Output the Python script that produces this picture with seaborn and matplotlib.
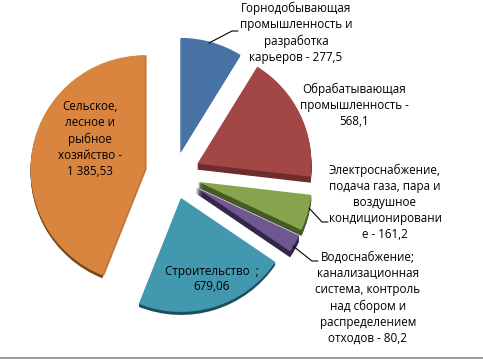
import matplotlib
matplotlib.use("Agg")
import matplotlib.pyplot as plt
import seaborn as sns

categories = [
    "Горнодобывающая\nпромышленность и\nразработка\nкарьеров - 277,5",
    "Обрабатывающая\nпромышленность -\n568,1",
    "Электроснабжение,\nподача газа, пара и\nвоздушное\nкондиционировани\nе - 161,2",
    "Водоснабжение;\nканализационная\nсистема, контроль\nнад сбором и\nраспределением\nотходов - 80,2",
    "Строительство  ;\n679,06",
    "Сельское,\nлесное и\nрыбное\nхозяйство -\n1 385,53",
]
values = [277.5, 568.1, 161.2, 80.2, 679.06, 1385.53]
colors = ["#4672A4", "#A24746", "#86A44E", "#6F5792", "#4298AE", "#D9853F"]
side_colors = ["#3E6797", "#6E2C2C", "#465A26", "#33264A", "#1C4F5E", "#7A4A1E"]

label_x = [296, 354, 385, 368, 212, 90]
label_y = [33, 105, 202, 298, 279, 139]

# leader lines for the labels sitting outside their slice
leaders = [
    ([209, 232, 238], [43, 31, 31]),
    ([309, 322, 328], [208, 222, 222]),
    ([293, 312, 318], [246, 261, 261]),
]

W, H = 483, 359
cx, cy = 174, H - 175
radius = 114
gap = [24, 26, 25, 25, 24, 30]
depths = [1, 6, 6, 6, 3, 3]
clear = (0, 0, 0, 0)

sns.set_theme(style="white")
plt.rcParams["font.family"] = ["Open Sans", "DejaVu Sans"]
palette = sns.color_palette(colors)


def draw_pie(face, x, y):
    ax.pie(values, explode=gap, colors=face, radius=radius, center=(x, y),
           startangle=90, counterclock=False, frame=True,
           wedgeprops={"linewidth": 0})


fig = plt.figure(figsize=(4.83, 3.59), dpi=100)
ax = fig.add_axes([0, 0, 1, 1])

# extruded side, stacked downwards, each slice with its own depth
for d in range(max(depths), 0, -1):
    draw_pie([s if d <= k else clear for s, k in zip(side_colors, depths)], cx, cy - d)
# lighter bevel on the straight edge of the big slice
draw_pie([clear] * 5 + ["#C27538"], cx + 2, cy)
draw_pie(palette, cx, cy)

ax.set_xlim(0, W)
ax.set_ylim(0, H)
ax.set_aspect("auto")
ax.axis("off")

for lx, ly in leaders:
    ax.plot(lx, [H - v for v in ly], color="black", lw=0.8, zorder=5)

for name, x, y in zip(categories, label_x, label_y):
    ax.text(x, H - y, name, ha="center", va="center", fontsize=8.4,
            color="black", linespacing=1.3, zorder=6)

# grey frame line along the bottom of the image
ax.plot([0, W], [1, 1], color="#8c8c8c", lw=1.2, zorder=7, clip_on=False)

fig.savefig("out.png", dpi=100)
